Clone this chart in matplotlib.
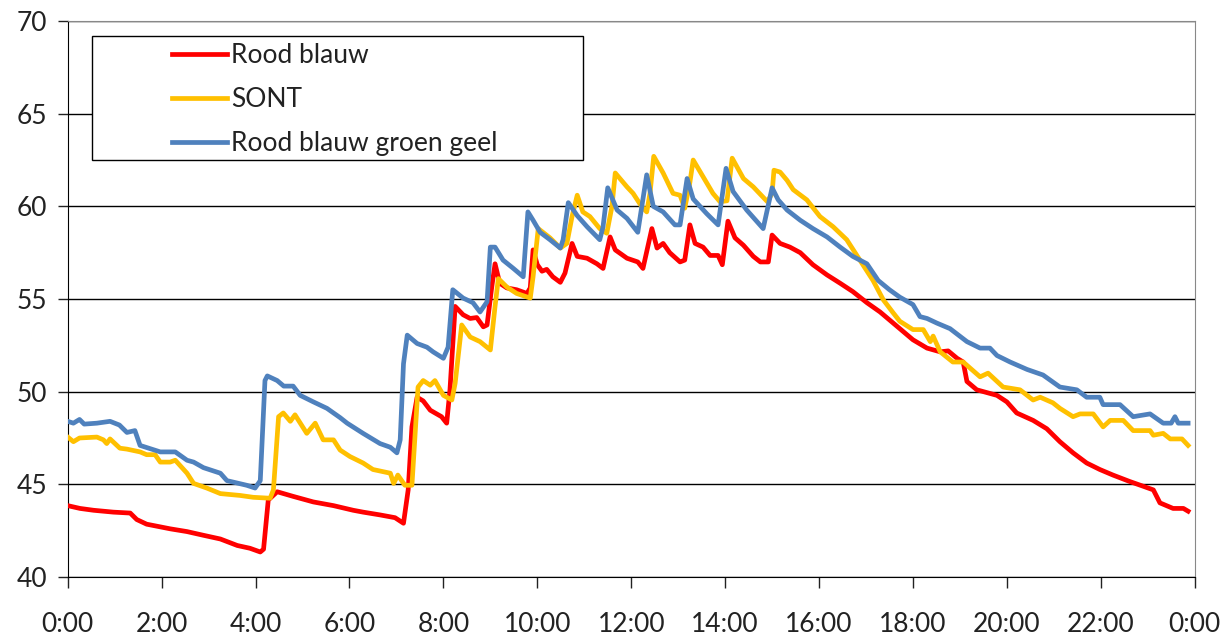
import matplotlib
matplotlib.use("Agg")
import matplotlib.pyplot as plt
from matplotlib.patches import Rectangle

# tijd in uren
rood_t = [0, 0.26, 0.55, 0.97, 1.33, 1.47, 1.68, 2.18, 2.54, 2.89, 3.25, 3.61, 3.88, 4.1, 4.17,
          4.27, 4.46, 4.8, 5.23, 5.66, 6.08, 6.29, 6.65, 6.97, 7.15, 7.25, 7.33, 7.44, 7.57, 7.72,
          7.96, 8.07, 8.14, 8.25, 8.42, 8.57, 8.71, 8.85, 8.93, 9.03, 9.1, 9.2, 9.35, 9.56, 9.78,
          9.85, 9.91, 10.0, 10.1, 10.2, 10.33, 10.49, 10.59, 10.74, 10.85, 11.06, 11.27, 11.4, 11.55,
          11.66, 11.91, 12.14, 12.25, 12.44, 12.55, 12.68, 12.82, 13.04, 13.14, 13.25, 13.36, 13.53,
          13.68, 13.85, 13.94, 14.06, 14.21, 14.39, 14.6, 14.75, 14.92, 15.0, 15.17, 15.38, 15.6,
          15.87, 16.17, 16.45, 16.72, 17.02, 17.3, 17.72, 18.0, 18.3, 18.58, 18.75, 18.94, 19.07,
          19.15, 19.36, 19.79, 20.0, 20.21, 20.56, 20.85, 21.13, 21.41, 21.7, 21.98, 22.26, 22.62,
          22.9, 23.12, 23.26, 23.54, 23.76, 23.86]
rood_v = [43.85, 43.7, 43.6, 43.5, 43.45, 43.1, 42.85, 42.6, 42.45, 42.25, 42.05, 41.7, 41.55, 41.35, 41.5,
          44.15, 44.6, 44.35, 44.05, 43.85, 43.6, 43.5, 43.35, 43.2, 42.9, 44.7, 48.1, 49.7, 49.5, 49.0,
          48.65, 48.3, 50.1, 54.6, 54.15, 53.95, 54.0, 53.5, 53.6, 55.65, 56.9, 55.85, 55.6, 55.5, 55.3,
          55.6, 57.65, 56.85, 56.5, 56.6, 56.2, 55.9, 56.4, 58.0, 57.3, 57.2, 56.9, 56.65, 58.35,
          57.65, 57.2, 57.0, 56.65, 58.8, 57.75, 58.0, 57.5, 57.0, 57.1, 59.0, 58.0, 57.8,
          57.35, 57.35, 56.85, 59.2, 58.3, 57.9, 57.3, 57.0, 57.0, 58.45, 58.0, 57.8, 57.5,
          56.85, 56.3, 55.85, 55.4, 54.8, 54.3, 53.4, 52.8, 52.35, 52.15, 52.2, 51.8, 51.6,
          50.55, 50.1, 49.8, 49.45, 48.85, 48.45, 48.0, 47.3, 46.7, 46.15, 45.8, 45.5, 45.15,
          44.9, 44.7, 44.0, 43.7, 43.7, 43.55]

sont_t = [0, 0.12, 0.25, 0.62, 0.76, 0.83, 0.9, 1.11, 1.26, 1.54, 1.68, 1.86, 1.97, 2.18, 2.29, 2.54,
          2.68, 2.96, 3.25, 3.67, 3.95, 4.31, 4.38, 4.49, 4.59, 4.74, 4.84, 5.09, 5.27, 5.44, 5.66,
          5.8, 6.01, 6.29, 6.5, 6.87, 6.94, 7.03, 7.18, 7.33, 7.46, 7.57, 7.72, 7.82, 8.0, 8.18,
          8.25, 8.39, 8.57, 8.78, 9.0, 9.1, 9.17, 9.35, 9.56, 9.85, 9.91, 10.02, 10.27, 10.49, 10.63,
          10.74, 10.85, 10.97, 11.12, 11.33, 11.48, 11.59, 11.66, 11.91, 12.04, 12.22, 12.33, 12.4,
          12.48, 12.68, 12.89, 13.04, 13.14, 13.25, 13.32, 13.53, 13.74, 13.89, 14.04, 14.15, 14.39,
          14.6, 14.9, 15.0, 15.04, 15.17, 15.32, 15.45, 15.74, 16.02, 16.3, 16.59, 16.87, 17.15,
          17.37, 17.58, 17.72, 18.0, 18.22, 18.37, 18.43, 18.58, 18.85, 19.07, 19.43, 19.6, 19.92,
          20.28, 20.56, 20.71, 20.98, 21.13, 21.41, 21.56, 21.84, 22.05, 22.2, 22.48, 22.69, 23.05,
          23.12, 23.33, 23.48, 23.73, 23.86]
sont_v = [47.55, 47.3, 47.5, 47.55, 47.4, 47.2, 47.45, 46.95, 46.9, 46.75, 46.6, 46.6, 46.2, 46.2, 46.3, 45.6,
          45.05, 44.8, 44.5, 44.4, 44.3, 44.25, 44.7, 48.65, 48.85, 48.4, 48.75, 47.75, 48.3, 47.4, 47.4,
          46.85, 46.5, 46.15, 45.8, 45.6, 45.05, 45.5, 44.95, 44.95, 50.25, 50.6, 50.35, 50.6, 49.8, 49.55,
          50.45, 53.6, 52.95, 52.7, 52.25, 54.6, 56.1, 55.65, 55.3, 55.05, 56.2, 58.8, 58.3, 57.75, 58.0,
          59.45, 60.6, 59.7, 59.45, 58.8, 58.55, 60.0, 61.8, 61.05, 60.7, 60.0, 59.7, 60.7,
          62.7, 61.8, 60.7, 60.6, 59.9, 61.3, 62.5, 61.6, 60.7, 60.25, 60.3, 62.6, 61.5,
          61.05, 60.25, 60.7, 61.95, 61.85, 61.4, 60.9, 60.35, 59.45, 58.9, 58.2, 57.1, 56.0,
          54.95, 54.25, 53.8, 53.35, 53.35, 52.7, 53.0, 52.15, 51.6, 51.6, 50.8, 51.0, 50.25,
          50.1, 49.55, 49.7, 49.4, 49.1, 48.65, 48.8, 48.8, 48.1, 48.45, 48.45, 47.9, 47.9,
          47.65, 47.75, 47.45, 47.45, 47.1]

rbgg_t = [0, 0.12, 0.25, 0.35, 0.62, 0.9, 1.1, 1.26, 1.43, 1.54, 1.97, 2.29, 2.54, 2.68, 2.89, 3.25,
          3.39, 3.81, 3.99, 4.1, 4.2, 4.25, 4.46, 4.6, 4.8, 4.95, 5.23, 5.52, 5.8, 5.95, 6.29, 6.65,
          6.87, 7.01, 7.08, 7.15, 7.23, 7.44, 7.65, 7.78, 8.0, 8.1, 8.2, 8.42, 8.63, 8.78, 8.93, 9.0,
          9.1, 9.27, 9.49, 9.7, 9.8, 9.91, 10.06, 10.27, 10.49, 10.55, 10.66, 10.85, 11.06, 11.33,
          11.4, 11.5, 11.7, 11.91, 12.14, 12.33, 12.47, 12.68, 12.93, 13.04, 13.19, 13.32, 13.61,
          13.85, 14.02, 14.17, 14.46, 14.81, 15.0, 15.13, 15.32, 15.6, 15.87, 16.17, 16.45, 16.72,
          17.02, 17.26, 17.5, 17.72, 18.0, 18.15, 18.3, 18.51, 18.79, 19.15, 19.43, 19.64, 19.79,
          20.07, 20.43, 20.77, 21.13, 21.49, 21.7, 21.98, 22.05, 22.41, 22.69, 23.05, 23.33, 23.5,
          23.58, 23.65, 23.86]
rbgg_v = [48.4, 48.3, 48.5, 48.25, 48.3, 48.4, 48.2, 47.8, 47.9, 47.1, 46.75, 46.75, 46.3, 46.2, 45.9, 45.6,
          45.2, 44.95, 44.8, 45.2, 50.6, 50.85, 50.6, 50.3, 50.3, 49.8, 49.45, 49.1, 48.6, 48.3, 47.75, 47.2,
          47.0, 46.7, 47.4, 51.5, 53.05, 52.6, 52.4, 52.15, 51.8, 52.4, 55.5, 55.05, 54.8, 54.3, 54.85, 57.8,
          57.8, 57.1, 56.65, 56.2, 59.7, 59.25, 58.6, 58.2, 57.75, 58.2, 60.2, 59.5, 58.9, 58.2,
          58.9, 61.0, 59.8, 59.35, 58.6, 61.7, 60.0, 59.7, 59.0, 59.0, 61.5, 60.4, 59.6,
          59.0, 62.05, 60.8, 59.8, 58.8, 61.0, 60.35, 59.8, 59.25, 58.8, 58.35, 57.8, 57.3,
          56.9, 56.0, 55.5, 55.1, 54.7, 54.05, 53.95, 53.7, 53.4, 52.7, 52.35, 52.35, 51.95,
          51.6, 51.2, 50.9, 50.25, 50.1, 49.7, 49.7, 49.3, 49.3, 48.65, 48.8, 48.3, 48.3,
          48.65, 48.3, 48.3]

namen = ['Rood blauw', 'SONT', 'Rood blauw groen geel']
kleuren = ['#FF0000', '#FFC000', '#4F81BD']
x_ticks = list(range(0, 25, 2))
x_labels = ['%d:00' % (h % 24) for h in x_ticks]

plt.rcParams['font.family'] = ['Lato', 'DejaVu Sans']
plt.rcParams['font.size'] = 19

fig = plt.figure(figsize=(12.32, 6.37), dpi=100)
ax = fig.add_axes([0.055, 0.0942, 0.9147, 0.8728])

lijnen = []
for t, v, naam, kleur in zip([rood_t, sont_t, rbgg_t], [rood_v, sont_v, rbgg_v], namen, kleuren):
    l, = ax.plot(t, v, color=kleur, lw=3.4, label=naam, solid_joinstyle='round', zorder=3)
    lijnen.append(l)

ax.set_xlim(0, 24)
ax.set_ylim(40, 70)
ax.set_xticks(x_ticks)
ax.set_xticklabels(x_labels)
ax.set_yticks(range(40, 71, 5))

ax.yaxis.grid(True, color='black', lw=1)
ax.set_axisbelow(True)
ax.spines['top'].set_color('#888888')
ax.spines['right'].set_color('#888888')
ax.spines['left'].set_color('black')
ax.spines['bottom'].set_color('black')
ax.tick_params(axis='y', direction='out', length=7, width=1, pad=8, colors='#222222')
ax.tick_params(axis='x', direction='out', length=8, width=1, pad=17, colors='#222222')

# legenda met eigen kader
ax.add_patch(Rectangle((0.0216, 0.75), 0.436, 0.223, transform=ax.transAxes,
                       facecolor='white', edgecolor='black', lw=1, zorder=4))
leg = ax.legend(handles=lijnen, loc='upper left', bbox_to_anchor=(0.0925, 0.960),
                frameon=False, borderpad=0, borderaxespad=0, handlelength=2.1,
                handletextpad=0.15, labelspacing=0.72, fontsize=19)
leg.set_zorder(5)
for tekst in leg.get_texts():
    tekst.set_color('#222222')

fig.savefig('out.png', dpi=100)
